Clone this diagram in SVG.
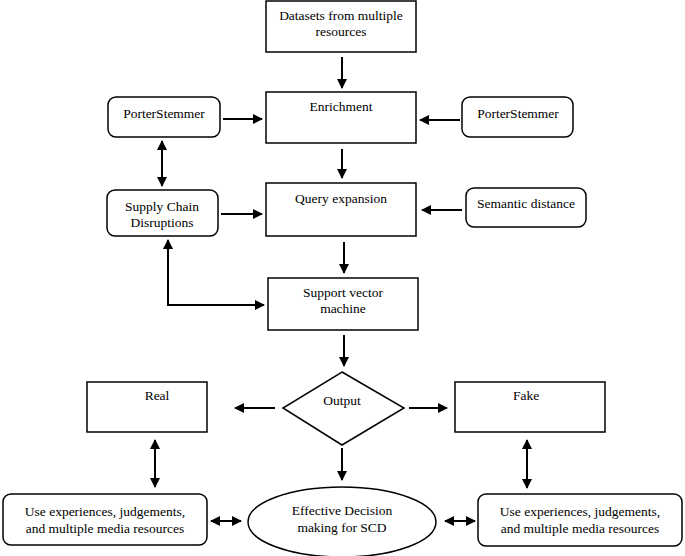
<svg xmlns="http://www.w3.org/2000/svg" width="685" height="556" viewBox="0 0 685 556">
<style>
.b{fill:#fff;stroke:#000;stroke-width:1.5}
text{font-family:'Liberation Serif','Times New Roman','DejaVu Serif',serif;font-size:13.5px;text-anchor:middle;fill:#000}
.c{stroke:#000;stroke-width:2;fill:none}
</style>
<defs>
<marker id="a" viewBox="0 0 10 10" refX="9" refY="5" markerWidth="5" markerHeight="5" orient="auto-start-reverse"><path d="M0,0L10,5L0,10z"/></marker>
</defs>
<rect width="685" height="556" fill="#fff"/>
<g id="datasets"><rect class="b" x="266" y="1" width="150" height="51"/><text x="341" y="20">Datasets from multiple</text><text x="341" y="36">resources</text></g>
<g id="enrichment"><rect class="b" x="266" y="92" width="150" height="51"/><text x="341" y="111">Enrichment</text></g>
<g id="ps1"><rect class="b" x="108" y="97" width="112" height="40" rx="8"/><text x="164" y="118">PorterStemmer</text></g>
<g id="ps2"><rect class="b" x="462" y="97" width="111" height="40" rx="8"/><text x="518" y="118">PorterStemmer</text></g>
<g id="query"><rect class="b" x="266" y="183" width="150" height="53"/><text x="341" y="203">Query expansion</text></g>
<g id="scd"><rect class="b" x="107" y="190" width="111" height="46" rx="8"/><text x="162" y="211">Supply Chain</text><text x="162" y="227">Disruptions</text></g>
<g id="semantic"><rect class="b" x="466" y="188" width="120" height="39" rx="8"/><text x="526" y="208">Semantic distance</text></g>
<g id="svm"><rect class="b" x="268" y="278" width="150" height="52"/><text x="343" y="297">Support vector</text><text x="343" y="313">machine</text></g>
<g id="output"><polygon class="b" points="342,372 404,408 342,445 283,408"/><text x="342" y="405">Output</text></g>
<g id="real"><rect class="b" x="87" y="382" width="120" height="50"/><text x="157" y="400">Real</text></g>
<g id="fake"><rect class="b" x="455" y="382" width="150" height="50"/><text x="526" y="400">Fake</text></g>
<g id="useL"><rect class="b" x="3" y="494" width="204" height="51" rx="8"/><text x="105" y="516">Use experiences, judgements,</text><text x="105" y="533">and multiple media resources</text></g>
<g id="eff"><ellipse class="b" cx="342" cy="522" rx="94" ry="35"/><text x="342" y="515">Effective Decision</text><text x="342" y="532">making for SCD</text></g>
<g id="useR"><rect class="b" x="478" y="494" width="204" height="52" rx="8"/><text x="580" y="516">Use experiences, judgements,</text><text x="580" y="533">and multiple media resources</text></g>
<g id="connectors" class="c" marker-end="url(#a)">
<line x1="342" y1="57" x2="342" y2="88"/>
<line x1="223" y1="119" x2="262" y2="119"/>
<line x1="460" y1="120" x2="420" y2="120"/>
<line x1="342" y1="149" x2="342" y2="178"/>
<line x1="221" y1="214" x2="262" y2="214"/>
<line x1="462" y1="210" x2="422" y2="210"/>
<line x1="162" y1="141" x2="162" y2="186" marker-start="url(#a)"/>
<line x1="344" y1="242" x2="344" y2="273"/>
<polyline points="168,240 168,305 264,305" marker-start="url(#a)"/>
<line x1="344" y1="335" x2="344" y2="366"/>
<line x1="275" y1="408" x2="235" y2="408"/>
<line x1="409" y1="408" x2="447" y2="408"/>
<line x1="155" y1="440" x2="155" y2="487" marker-start="url(#a)"/>
<line x1="527" y1="440" x2="527" y2="488" marker-start="url(#a)"/>
<line x1="342" y1="448" x2="342" y2="480"/>
<line x1="211" y1="521" x2="241" y2="521" marker-start="url(#a)"/>
<line x1="445" y1="521" x2="475" y2="521" marker-start="url(#a)"/>
</g>
</svg>
